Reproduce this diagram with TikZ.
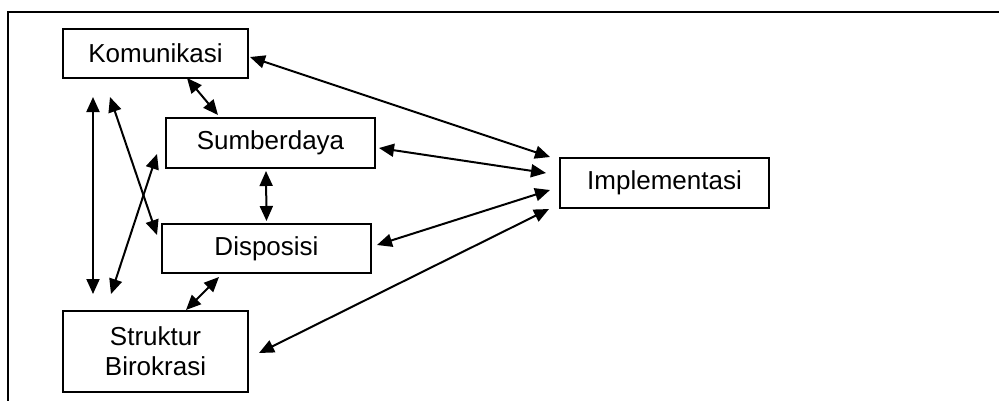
\documentclass[tikz,border=0pt]{standalone}
\usepackage{fontspec}
\setmainfont{Liberation Sans}
\usetikzlibrary{arrows.meta,calc}
\begin{document}
\begin{tikzpicture}[x=1pt,y=-1pt,
  box/.style={draw,line width=2pt,inner sep=0pt,align=center,
    font=\fontsize{26}{30}\selectfont},
  link/.style={line width=2pt,{Triangle[length=15pt,width=13pt]}-{Triangle[length=15pt,width=13pt]}}]
\useasboundingbox (0,0) rectangle (999,400);
\clip (0,0) rectangle (999,400);
\draw[line width=2pt] (1005,12) -- (8,12) -- (8,405);
\node[box,minimum width=185pt,minimum height=49pt] (kom) at (155.5,53.5) {Komunikasi};
\node[box,minimum width=209pt,minimum height=50pt] (sum) at (270.5,143) {Sumberdaya};
\node[box,minimum width=209pt,minimum height=49pt] (dis) at (266.5,248.5) {Disposisi};
\node[box,minimum width=185pt,minimum height=81pt] (str) at (155.5,351.5) {Struktur\\Birokrasi};
\node[box,minimum width=209pt,minimum height=50pt] (imp) at (664.5,183) {Implementasi};
\draw[link] ($(kom.east)+(1,3.5)$) -- ($(imp.north west)+(-9,0)$);
\draw[link] ($(sum.east)+(3,5)$) -- ($(imp.west)+(-13,-10)$);
\draw[link] ($(dis.east)+(5,-3.5)$) -- ($(imp.west)+(-9,7)$);
\draw[link] ($(str.east)+(10,1.5)$) -- ($(imp.south west)+(-10,0)$);
\draw[link] ($(kom.south)+(31.5,-1)$) -- ($(sum.north)+(-52.5,-2)$);
\draw[link] ($(sum.south)+(-4.5,2)$) -- ($(dis.north)+(0,-2)$);
\draw[link] ($(dis.south)+(-47.5,3)$) -- ($(str.north)+(30.5,0)$);
\draw[link] ($(kom.south west)+(31,18)$) -- ($(str.north west)+(31,-16)$);
\draw[link] ($(kom.south west)+(48,18)$) -- ($(dis.west)+(-4,-13.5)$);
\draw[link] ($(sum.west)+(-8,11)$) -- ($(str.north west)+(49,-16)$);
\end{tikzpicture}
\end{document}
